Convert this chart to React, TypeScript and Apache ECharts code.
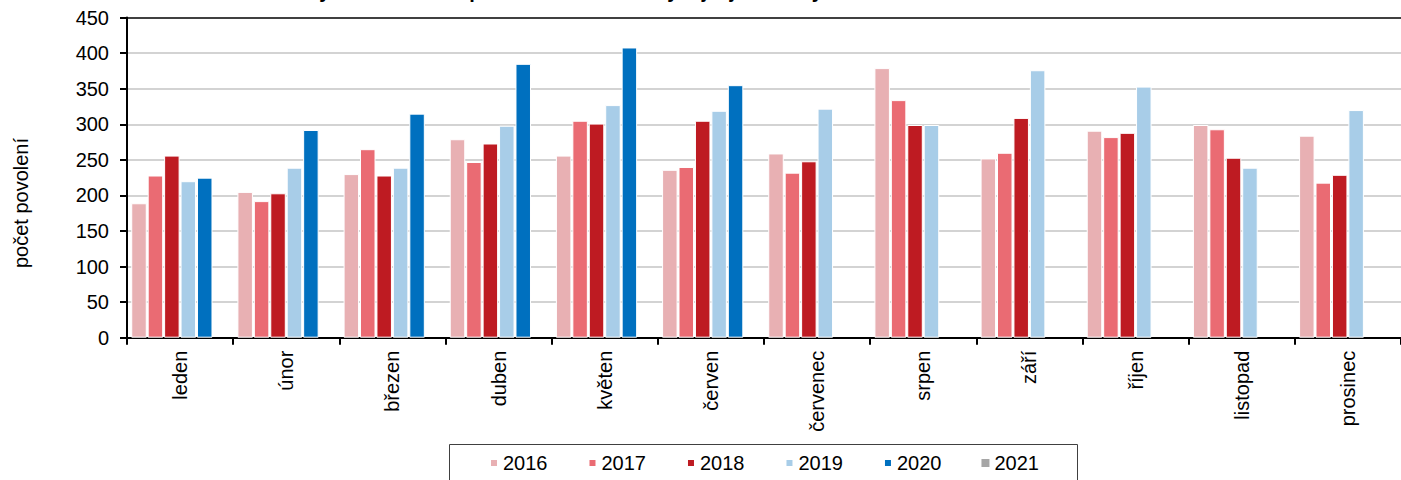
import React, { useEffect, useRef } from "react";
import * as echarts from "echarts";

const months = ["leden", "únor", "březen", "duben", "květen", "červen", "červenec", "srpen", "září", "říjen", "listopad", "prosinec"];
const years = ["2016", "2017", "2018", "2019", "2020", "2021"];
const v2016 = [189, 205, 230, 279, 256, 236, 259, 379, 252, 291, 299, 284];
const v2017 = [228, 192, 265, 247, 305, 240, 232, 334, 260, 282, 293, 218];
const v2018 = [256, 203, 228, 273, 301, 305, 248, 299, 309, 288, 253, 229];
const v2019 = [220, 239, 239, 298, 327, 319, 322, 299, 376, 353, 239, 320];
const v2020 = [225, 292, 315, 385, 408, 355, null, null, null, null, null, null];
const v2021 = [0, 0, 0, 0, 0, 0, 0, 0, 0, 0, 0, 0];
const colors = ["#E8B0B3", "#EA6B73", "#BE1B22", "#A8CDE8", "#0070BF", "#A6A6A6"];
const yTitle = "počet povolení";
const chartTitle = "Vydaná stavební povolení v Česku – vývoj v jednotlivých měsících";

const FONT = "'Liberation Sans', Arial, Helvetica, sans-serif";

export default function App() {
  const ref = useRef<HTMLDivElement>(null);
  useEffect(() => {
    document.body.style.margin = "0";
    const chart = echarts.init(ref.current!, null, { renderer: "svg" });
    const allData = [v2016, v2017, v2018, v2019, v2020, v2021];
    const splitColors = ["#c4c4c4", "#c4c4c4", "#c4c4c4", "#c4c4c4", "#c4c4c4", "#c4c4c4", "#c4c4c4", "#c4c4c4", "#c4c4c4", "#000000"];
    chart.setOption({
      animation: false,
      textStyle: { fontFamily: FONT },
      grid: { left: 127, right: 0, top: 17.6, bottom: 142.3, containLabel: false },
      legend: {
        data: years,
        left: 489,
        top: 453,
        icon: "rect",
        itemWidth: 8,
        itemHeight: 8,
        itemGap: 40,
        padding: 0,
        textStyle: { fontSize: 20, color: "#000", fontFamily: FONT },
      },
      xAxis: {
        type: "category",
        data: months,
        boundaryGap: true,
        axisLine: { lineStyle: { color: "#000", width: 2 } },
        axisTick: { show: true, alignWithLabel: false, length: 7, lineStyle: { color: "#000", width: 2 } },
        axisLabel: { rotate: 90, margin: 13, fontSize: 20, color: "#000", fontFamily: FONT },
      },
      yAxis: {
        type: "value",
        min: 0,
        max: 450,
        interval: 50,
        axisLine: { show: true, lineStyle: { color: "#000", width: 2 } },
        axisTick: { show: true, length: 7, lineStyle: { color: "#000", width: 2 } },
        axisLabel: { margin: 18, fontSize: 20, color: "#000", fontFamily: FONT },
        splitLine: { show: true, lineStyle: { color: splitColors, width: 1.5 } },
      },
      series: years.map((y, i) => ({
        name: y,
        type: "bar",
        data: allData[i],
        barCategoryGap: "8%",
        barGap: "6%",
        itemStyle: {
          color: colors[i],
          borderColor: "#fff",
          borderWidth: i === 5 ? 0 : 1,
        },
      })),
      graphic: [
        {
          type: "text",
          x: 622,
          y: 1,
          style: {
            text: chartTitle,
            font: `bold 20px ${FONT}`,
            fill: "#000",
            textAlign: "center",
            textVerticalAlign: "bottom",
            align: "center",
            verticalAlign: "bottom",
          },
        },
        {
          type: "text",
          x: 21,
          y: 203,
          rotation: Math.PI / 2,
          style: {
            text: yTitle,
            font: `20px ${FONT}`,
            fill: "#000",
            textAlign: "center",
            textVerticalAlign: "middle",
            align: "center",
            verticalAlign: "middle",
          },
        },
        {
          type: "rect",
          shape: { x: 449.5, y: 444.5, width: 628, height: 60 },
          style: { fill: "none", stroke: "#404040", lineWidth: 1 },
          silent: true,
        },
      ],
    });
    return () => chart.dispose();
  }, []);
  return <div ref={ref} style={{ width: 1401, height: 480 }} />;
}
